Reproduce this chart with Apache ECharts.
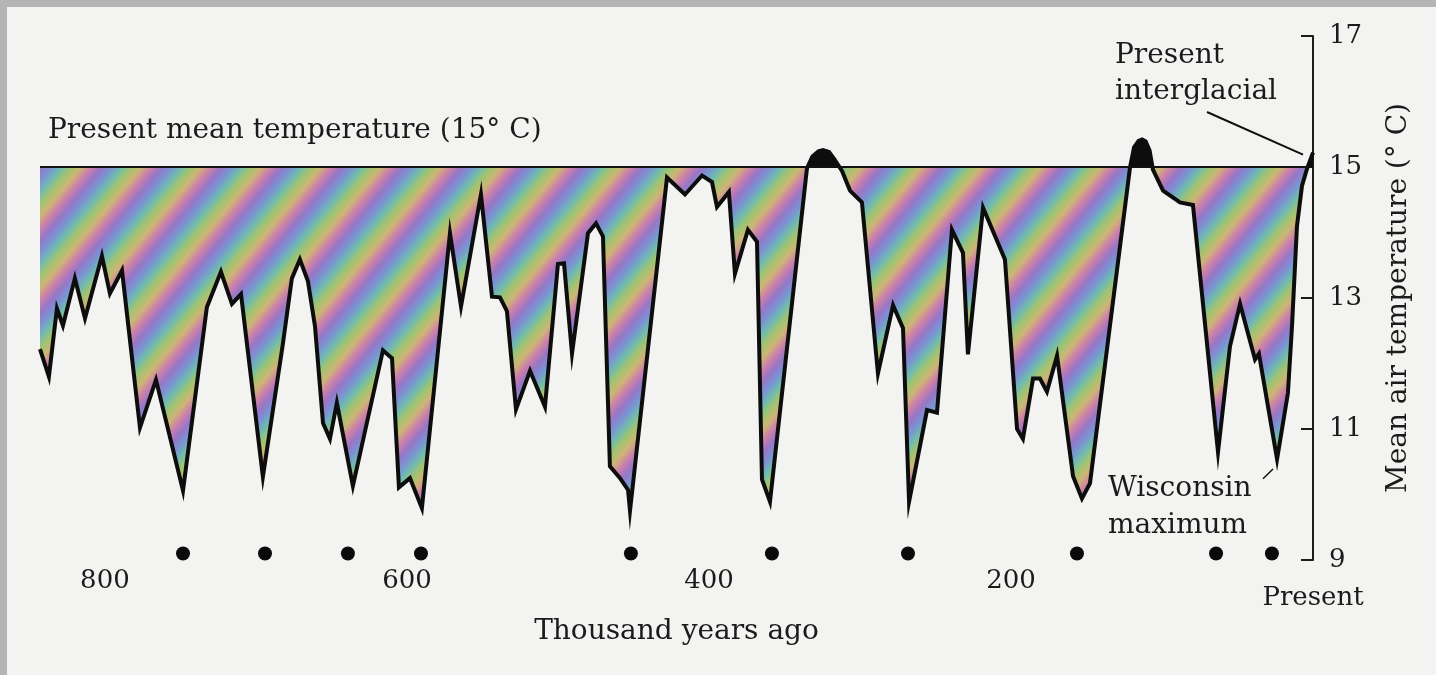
<!DOCTYPE html>
<html>
<head>
<meta charset="utf-8">
<script src="https://cdn.jsdelivr.net/npm/echarts@6/dist/echarts.min.js"></script>
<style>
html,body{margin:0;padding:0;background:#f3f3f1;overflow:hidden;}
#c{position:absolute;left:0;top:0;width:1436px;height:675px;}
.edge{position:absolute;background:#b5b5b5;z-index:5;}
</style>
</head>
<body>
<div id="c"></div>
<div class="edge" style="left:0;top:0;width:7px;height:675px"></div>
<div class="edge" style="left:0;top:0;width:1436px;height:7px"></div>
<script>
// ---- data (thousand years ago, mean air temperature °C) ----
const years = [843.0,837.1,831.8,827.8,819.9,813.2,802.0,796.7,788.7,776.8,766.2,748.3,732.5,723.2,715.9,709.9,695.4,682.1,676.2,670.9,665.6,660.9,655.6,651.0,646.4,635.8,615.9,609.9,605.3,598.0,590.1,571.5,564.2,551.0,543.7,538.4,533.8,527.8,518.5,508.6,500.0,496.0,490.7,480.1,474.8,470.2,465.6,458.9,453.6,452.3,427.8,415.9,404.6,398.0,394.7,386.8,382.8,374.2,368.2,364.9,359.6,335.1,331.5,327.5,324.5,320.5,317.0,311.9,306.6,298.7,288.1,278.1,271.5,267.5,255.6,249.0,239.1,231.8,228.5,218.5,204.0,196.0,192.1,185.4,180.8,176.2,169.5,158.9,153.0,147.7,121.2,118.5,115.5,113.2,110.8,108.2,106.0,99.3,88.1,79.5,62.9,55.0,48.3,38.4,35.8,23.8,16.6,13.9,10.6,7.3,4.0,0];
const temps = [12.22,11.80,12.84,12.58,13.30,12.69,13.64,13.07,13.42,11.02,11.75,10.06,12.86,13.40,12.91,13.06,10.27,12.31,13.30,13.59,13.26,12.57,11.09,10.85,11.40,10.13,12.20,12.08,10.11,10.25,9.79,13.99,12.87,14.58,13.02,13.01,12.80,11.30,11.89,11.34,13.52,13.53,12.15,13.99,14.14,13.94,10.43,10.25,10.07,9.75,14.84,14.58,14.87,14.77,14.39,14.62,13.37,14.04,13.86,10.23,9.89,14.98,15.16,15.24,15.26,15.23,15.12,14.94,14.64,14.46,11.85,12.89,12.54,9.89,11.29,11.25,14.04,13.69,12.14,14.38,13.59,11.00,10.85,11.77,11.77,11.57,12.12,10.28,9.94,10.17,14.99,15.30,15.40,15.42,15.39,15.25,14.96,14.64,14.46,14.42,10.65,12.26,12.91,12.06,12.15,10.54,11.55,12.57,14.10,14.71,14.97,15.22];
const dotYears = [748.3,694.0,639.1,590.7,451.7,358.3,268.2,156.3,64.2,27.2];
const xTickValues = [0,200,400,600,800];
const xTickNames = ['Present','200','400','600','800'];
const yTickValues = [9,11,13,15,17];
const presentMean = 15;
// annotation leader lines (data coordinates)
const interglacialLeader = [[70.2,15.84],[6.6,15.19]];
const wisconsinLeader = [[33.1,10.24],[26.5,10.39]];

// ---- layout / style ----
const xMax = 843, yMin = 9, yMax = 17;
const L = 40, R = 123, TOP = 36, H = 524;
const perDeg = H / (yMax - yMin);
const FONT = '"DejaVu Serif", serif';
const INK = '#1b1b1b';
const DOT_LEVEL = 9.1;

const curve = years.map((y, i) => [y, temps[i]]);

function stripeTile() {
  const W = 60, Ht = 72;
  const cv = document.createElement('canvas');
  cv.width = W; cv.height = Ht;
  const ctx = cv.getContext('2d');
  const im = ctx.createImageData(W, Ht);
  const pal = [[152,118,198],[122,146,212],[112,186,176],[160,196,112],[206,180,118],[204,128,170]];
  for (let y = 0; y < Ht; y++) for (let x = 0; x < W; x++) {
    const ph = ((x / W + y / Ht) % 1) * pal.length;
    const i = Math.floor(ph), f = ph - i;
    const a = pal[i % pal.length], b = pal[(i + 1) % pal.length];
    const k = (y * W + x) * 4;
    for (let ch = 0; ch < 3; ch++) im.data[k + ch] = Math.round(a[ch] + (b[ch] - a[ch]) * f);
    im.data[k + 3] = 255;
  }
  ctx.putImageData(im, 0, 0);
  return cv;
}
const stripes = stripeTile();

const hiddenX = (g) => ({gridIndex: g, type: 'value', min: 0, max: xMax, inverse: true, show: false});

const chart = echarts.init(document.getElementById('c'), null, {renderer: 'canvas'});
chart.setOption({
  animation: false,
  backgroundColor: 'transparent',
  grid: [
    {left: L, right: R, top: TOP, height: H},
    {left: L, right: R, top: TOP, height: (yMax - presentMean) * perDeg},
    {left: L, right: R, top: TOP + (yMax - presentMean) * perDeg, height: (presentMean - yMin) * perDeg}
  ],
  xAxis: [
    {
      gridIndex: 0, type: 'value', min: 0, max: xMax, inverse: true, interval: 200,
      axisLine: {show: false}, axisTick: {show: false}, splitLine: {show: false},
      axisLabel: {
        margin: 8, color: INK, fontFamily: FONT, fontSize: 26,
        formatter: (v) => {
          const i = xTickValues.indexOf(v);
          if (i < 0) return '';
          return v === 0 ? '{p|' + xTickNames[i] + '}' : xTickNames[i];
        },
        rich: {p: {padding: [17, 0, 0, 0], color: INK, fontFamily: FONT, fontSize: 26}}
      },
      name: 'Thousand years ago', nameLocation: 'middle', nameGap: 58,
      nameTextStyle: {color: INK, fontFamily: FONT, fontSize: 28}
    },
    hiddenX(1), hiddenX(2)
  ],
  yAxis: [
    {
      gridIndex: 0, type: 'value', position: 'right', min: yMin, max: yMax, interval: 2,
      axisLine: {show: true, lineStyle: {color: INK, width: 2}},
      axisTick: {show: true, inside: true, length: 12, lineStyle: {color: INK, width: 2}},
      splitLine: {show: false},
      axisLabel: {margin: 16, color: INK, fontFamily: FONT, fontSize: 26,
        formatter: (v) => yTickValues.indexOf(v) >= 0 ? String(v) : ''},
      name: 'Mean air temperature (° C)', nameLocation: 'middle', nameGap: 72, nameRotate: 90,
      nameTextStyle: {color: INK, fontFamily: FONT, fontSize: 28}
    },
    {gridIndex: 1, type: 'value', min: presentMean, max: yMax, show: false},
    {gridIndex: 2, type: 'value', min: yMin, max: presentMean, show: false}
  ],
  series: [
    {
      name: 'below', type: 'line', xAxisIndex: 2, yAxisIndex: 2, data: curve,
      symbol: 'none', silent: true, clip: true,
      lineStyle: {width: 0, opacity: 0},
      areaStyle: {color: {image: stripes, repeat: 'repeat'}, opacity: 1, origin: 'end'}
    },
    {
      name: 'above', type: 'line', xAxisIndex: 1, yAxisIndex: 1, data: curve,
      symbol: 'none', silent: true, clip: true,
      lineStyle: {width: 0, opacity: 0},
      areaStyle: {color: '#0d0d0d', opacity: 1, origin: 'start'}
    },
    {
      name: 'temperature', type: 'line', xAxisIndex: 0, yAxisIndex: 0, data: curve,
      symbol: 'none', silent: true, clip: false,
      lineStyle: {color: '#0d0d0d', width: 4, join: 'miter'},
      markLine: {
        silent: true, symbol: 'none', label: {show: false},
        lineStyle: {color: '#111', width: 2, type: 'solid'},
        data: [
          {yAxis: presentMean},
          [{coord: interglacialLeader[0]}, {coord: interglacialLeader[1]}],
          [{coord: wisconsinLeader[0], lineStyle: {width: 1.5}}, {coord: wisconsinLeader[1]}]
        ]
      }
    },
    {
      name: 'dots', type: 'scatter', xAxisIndex: 0, yAxisIndex: 0,
      data: dotYears.map(y => [y, DOT_LEVEL]), symbolSize: 14, silent: true,
      itemStyle: {color: '#0a0a0a', opacity: 1}
    }
  ],
  graphic: [
    {type: 'text', left: 48, top: 117, silent: true,
      style: {text: 'Present mean temperature (15° C)', fontFamily: FONT, fontSize: 28, fill: INK}},
    {type: 'text', left: 1115, top: 38, silent: true,
      style: {text: 'Present\ninterglacial', fontFamily: FONT, fontSize: 28, lineHeight: 36, fill: INK}},
    {type: 'text', left: 1108, top: 470, silent: true,
      style: {text: 'Wisconsin\nmaximum', fontFamily: FONT, fontSize: 28, lineHeight: 37, fill: INK}}
  ]
});
</script>
</body>
</html>
